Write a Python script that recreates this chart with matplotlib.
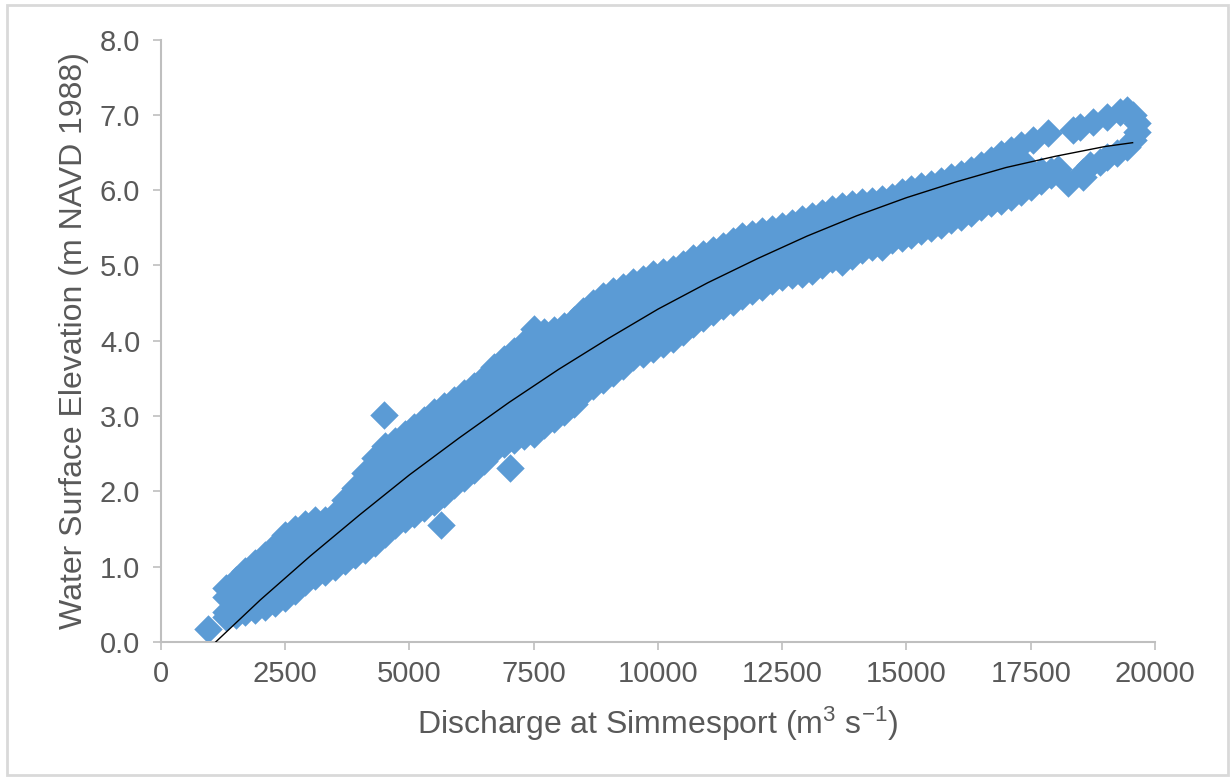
# Courbe de tarage : hauteur d'eau vs débit à Simmesport
import matplotlib.pyplot as plt
from matplotlib.patches import Rectangle

plt.rcParams['font.family'] = ['Liberation Sans', 'DejaVu Sans']
plt.rcParams['mathtext.default'] = 'regular'

BLUE = "#5B9BD5"
GREY_TXT = "#595959"
GREY_AX = "#BFBFBF"

# -------- DONNÉES --------
# bande principale : débit de chaque colonne et hauteurs observées dans cette colonne
band_q = [1300, 1500, 1700, 1900, 2100, 2300, 2500, 2700, 2900, 3100,
          3300, 3500, 3700, 3900, 4100, 4300, 4500, 4700, 4900, 5100,
          5300, 5500, 5700, 5900, 6100, 6300, 6500, 6700, 6900, 7100,
          7300, 7500, 7700, 7900, 8100, 8300, 8500, 8700, 8900, 9100,
          9300, 9500, 9700, 9900, 10100, 10300, 10500, 10700, 10900, 11100,
          11300, 11500, 11700, 11900, 12100, 12300, 12500, 12700, 12900, 13100,
          13300, 13500, 13700, 13900, 14100, 14300, 14500, 14700, 14900, 15100,
          15300, 15500, 15700, 15900, 16100, 16300, 16500, 16700, 16900, 17100,
          17300, 17500, 17700, 17900, 18050]
band_h = [
    [0.33, 0.4, 0.6, 0.72], [0.36, 0.5, 0.7, 0.82], [0.40, 0.6, 0.8, 0.94],
    [0.43, 0.5, 0.7, 0.9, 1.05], [0.47, 0.6, 0.8, 1.0, 1.15], [0.52, 0.7, 0.9, 1.1, 1.28],
    [0.58, 0.8, 1.0, 1.2, 1.42], [0.68, 0.9, 1.1, 1.3, 1.5], [0.80, 1.0, 1.2, 1.4, 1.57],
    [0.87, 1.1, 1.3, 1.5, 1.62], [0.93, 1.0, 1.2, 1.4, 1.62], [1.0, 1.1, 1.3, 1.5, 1.7],
    [1.08, 1.2, 1.4, 1.6, 1.8, 1.88], [1.15, 1.3, 1.5, 1.7, 1.9, 2.04],
    [1.22, 1.4, 1.6, 1.8, 2.0, 2.24], [1.32, 1.5, 1.7, 1.9, 2.1, 2.3, 2.44],
    [1.44, 1.6, 1.8, 2.0, 2.2, 2.4, 2.6], [1.56, 1.7, 1.9, 2.1, 2.3, 2.5, 2.67],
    [1.63, 1.8, 2.0, 2.2, 2.4, 2.6, 2.76], [1.70, 1.9, 2.1, 2.3, 2.5, 2.7, 2.86],
    [1.78, 2.0, 2.2, 2.4, 2.6, 2.8, 2.95], [1.86, 2.1, 2.3, 2.5, 2.7, 2.9, 3.06],
    [1.96, 2.2, 2.4, 2.6, 2.8, 3.0, 3.14], [2.08, 2.3, 2.5, 2.7, 2.9, 3.1, 3.21],
    [2.18, 2.4, 2.6, 2.8, 3.0, 3.2, 3.31], [2.28, 2.5, 2.7, 2.9, 3.1, 3.3, 3.40],
    [2.40, 2.6, 2.8, 3.0, 3.2, 3.4, 3.50], [2.55, 2.7, 2.9, 3.1, 3.3, 3.5, 3.65],
    [2.63, 2.8, 3.0, 3.2, 3.4, 3.6, 3.76], [2.68, 2.9, 3.1, 3.3, 3.5, 3.7, 3.86],
    [2.73, 2.8, 3.0, 3.2, 3.4, 3.6, 3.8, 3.97], [2.76, 2.9, 3.1, 3.3, 3.5, 3.7, 3.9, 4.15],
    [2.88, 3.0, 3.2, 3.4, 3.6, 3.8, 4.0, 4.12], [2.96, 3.1, 3.3, 3.5, 3.7, 3.9, 4.14],
    [3.05, 3.2, 3.4, 3.6, 3.8, 4.0, 4.20], [3.16, 3.3, 3.5, 3.7, 3.9, 4.1, 4.28],
    [3.30, 3.4, 3.6, 3.8, 4.0, 4.2, 4.40], [3.40, 3.5, 3.7, 3.9, 4.1, 4.3, 4.50],
    [3.48, 3.6, 3.8, 4.0, 4.2, 4.4, 4.60], [3.57, 3.7, 3.9, 4.1, 4.3, 4.5, 4.66],
    [3.67, 3.8, 4.0, 4.2, 4.4, 4.6, 4.72], [3.78, 3.9, 4.1, 4.3, 4.5, 4.7, 4.78],
    [3.83, 4.0, 4.2, 4.4, 4.6, 4.82], [3.89, 4.1, 4.3, 4.5, 4.7, 4.88],
    [3.96, 4.2, 4.4, 4.6, 4.8, 4.91], [4.03, 4.1, 4.3, 4.5, 4.7, 4.9, 4.95],
    [4.12, 4.2, 4.4, 4.6, 4.8, 5.02], [4.22, 4.3, 4.5, 4.7, 4.9, 5.10],
    [4.30, 4.4, 4.6, 4.8, 5.0, 5.15], [4.38, 4.5, 4.7, 4.9, 5.1, 5.20],
    [4.46, 4.6, 4.8, 5.0, 5.2, 5.26], [4.52, 4.7, 4.9, 5.1, 5.32],
    [4.60, 4.8, 5.0, 5.2, 5.39], [4.66, 4.9, 5.1, 5.3, 5.42],
    [4.72, 4.8, 5.0, 5.2, 5.4, 5.46], [4.79, 4.9, 5.1, 5.3, 5.49],
    [4.85, 5.0, 5.2, 5.4, 5.52], [4.87, 5.1, 5.3, 5.5, 5.57],
    [4.89, 5.0, 5.2, 5.4, 5.62], [4.93, 5.1, 5.3, 5.5, 5.66],
    [5.00, 5.2, 5.4, 5.6, 5.70], [5.08, 5.3, 5.5, 5.7, 5.75],
    [5.05, 5.2, 5.4, 5.6, 5.79], [5.12, 5.3, 5.5, 5.7, 5.82],
    [5.20, 5.4, 5.6, 5.84], [5.24, 5.3, 5.5, 5.7, 5.85],
    [5.25, 5.4, 5.6, 5.8, 5.88], [5.34, 5.5, 5.7, 5.91],
    [5.37, 5.6, 5.8, 5.97], [5.40, 5.5, 5.7, 5.9, 6.02],
    [5.46, 5.6, 5.8, 6.05], [5.50, 5.7, 5.9, 6.08],
    [5.54, 5.6, 5.8, 6.0, 6.12], [5.60, 5.7, 5.9, 6.1, 6.18],
    [5.65, 5.8, 6.0, 6.22], [5.70, 5.9, 6.1, 6.27],
    [5.77, 6.0, 6.2, 6.34], [5.83, 5.9, 6.1, 6.3, 6.40],
    [5.86, 6.0, 6.2, 6.4, 6.48], [5.91, 6.1, 6.3, 6.53],
    [5.97, 6.2, 6.4, 6.60], [6.04, 6.26], [6.12, 6.26], [6.20, 6.25], [6.28],
]

# crue la plus forte : boucle d'hystérésis
loop_q = [17550, 17850, 18350, 18490, 18750, 19035, 19300, 19440, 19560, 19640,
          19640, 19560, 19440, 19240, 19035, 18890, 18690, 18550, 18550, 18250]
loop_h = [6.67, 6.76, 6.80, 6.84, 6.91, 6.97, 7.04, 7.06, 7.00, 6.89,
          6.77, 6.67, 6.57, 6.49, 6.44, 6.37, 6.33, 6.24, 6.18, 6.10]

# points isolés
outlier_q = [950, 4480, 5630, 7020]
outlier_h = [0.17, 3.02, 1.55, 2.31]

# courbe de tendance
trend_q = [1100, 2000, 3000, 4000, 5000, 6000, 7000, 8000, 9000, 10000,
           11000, 12000, 13000, 14000, 15000, 16000, 17000, 18000, 19000, 19550]
trend_h = [0.00, 0.56, 1.14, 1.69, 2.22, 2.71, 3.18, 3.62, 4.03, 4.42,
           4.77, 5.09, 5.39, 5.66, 5.90, 6.11, 6.30, 6.45, 6.58, 6.63]

# -------- FIGURE --------
pts_q, pts_h = [], []
for q, hs in zip(band_q, band_h):
    pts_q += [q] * len(hs)
    pts_h += hs
pts_q += loop_q + outlier_q
pts_h += loop_h + outlier_h

fig = plt.figure(figsize=(12.3, 7.78), dpi=100)
ax = fig.add_axes([0.1309, 0.1748, 0.8081, 0.7744])

ax.scatter(pts_q, pts_h, marker="D", s=210, color=BLUE, linewidths=0, zorder=2)
ax.plot(trend_q, trend_h, color="black", lw=1.0, zorder=3)

ax.set_xlim(0, 20000)
ax.set_ylim(0, 8)
ax.set_xticks(range(0, 20001, 2500))
ax.set_yticks(range(0, 9))
ax.set_yticklabels([f"{v:.1f}" for v in range(0, 9)])

for side in ["top", "right"]:
    ax.spines[side].set_visible(False)
for side in ["left", "bottom"]:
    ax.spines[side].set_color(GREY_AX)
    ax.spines[side].set_linewidth(1.5)

ax.tick_params(axis="both", colors=GREY_AX, labelcolor=GREY_TXT,
               labelsize=21, length=6, width=1.2)
ax.tick_params(axis="y", pad=9)
ax.tick_params(axis="x", pad=7)

ax.set_xlabel("Discharge at Simmesport (m$^{3}$ s$^{-1}$)", fontsize=23,
              color=GREY_TXT, labelpad=12)
ax.set_ylabel("Water Surface Elevation (m NAVD 1988)", fontsize=23,
              color=GREY_TXT, labelpad=8)

# cadre gris autour de la figure
fig.patches.append(Rectangle((0.0057, 0.004), 0.9927, 0.9897, transform=fig.transFigure,
                             fill=False, edgecolor="#D9D9D9", lw=2))

plt.savefig("out.png", dpi=100)
print("Figure enregistrée dans : out.png")
